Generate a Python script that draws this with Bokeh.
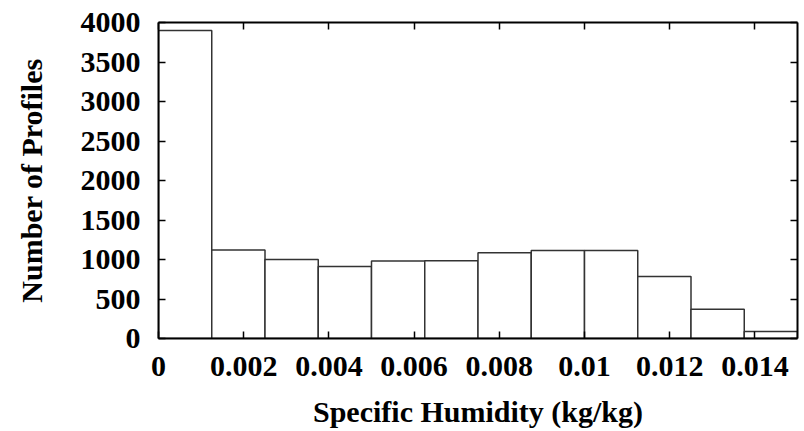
from bokeh.plotting import figure
from bokeh.models import LinearAxis, Range1d, FixedTicker
from bokeh.embed import file_html
from bokeh.resources import INLINE

# Histogram data
bin_edges = [0.0, 0.00125, 0.0025, 0.00375, 0.005, 0.00625, 0.0075,
             0.00875, 0.01, 0.01125, 0.0125, 0.01375, 0.015]
counts = [3900, 1120, 1000, 910, 980, 985, 1085, 1115, 1115, 785, 370, 90]
x_ticks = [0, 0.002, 0.004, 0.006, 0.008, 0.01, 0.012, 0.014]
x_tick_labels = ["0", "0.002", "0.004", "0.006", "0.008", "0.01", "0.012", "0.014"]
y_ticks = [0, 500, 1000, 1500, 2000, 2500, 3000, 3500, 4000]

FONT = "Liberation Serif"
FS = "30px"

p = figure(width=804, height=431, output_backend="svg", toolbar_location=None,
           x_range=Range1d(0, 0.015), y_range=Range1d(0, 4000),
           min_border_left=158, min_border_right=7, min_border_top=22,
           min_border_bottom=93)
p.outline_line_color = None
p.xgrid.visible = False
p.ygrid.visible = False
p.background_fill_color = "white"
p.border_fill_color = "white"

p.quad(left=bin_edges[:-1], right=bin_edges[1:], bottom=0, top=counts,
       fill_color="white", line_color="#333333", line_width=1.5)

def style(ax, labels=True):
    ax.axis_line_color = "black"
    ax.axis_line_width = 2
    ax.major_tick_in = 7
    ax.major_tick_out = 0
    ax.major_tick_line_color = "black"
    ax.major_tick_line_width = 1.5
    ax.minor_tick_line_color = None
    ax.major_label_text_font = FONT
    ax.major_label_text_font_style = "bold"
    ax.major_label_text_font_size = FS
    ax.major_label_text_color = "black"
    ax.axis_label_text_font = FONT
    ax.axis_label_text_font_style = "bold"
    ax.axis_label_text_font_size = FS
    ax.axis_label_text_color = "black"
    if not labels:
        ax.major_label_text_font_size = "0px"
        ax.major_label_text_color = None

xa = p.xaxis[0]
style(xa)
xa.ticker = FixedTicker(ticks=x_ticks)
xa.major_label_overrides = {t: s for t, s in zip(x_ticks, x_tick_labels)}
xa.major_label_standoff = 18
xa.axis_label = "Specific Humidity (kg/kg)"
xa.axis_label_standoff = 16

ya = p.yaxis[0]
style(ya)
ya.ticker = FixedTicker(ticks=y_ticks)
ya.major_label_standoff = 18
ya.axis_label = "Number of Profiles"
ya.axis_label_standoff = 30

top = LinearAxis(ticker=FixedTicker(ticks=x_ticks))
style(top, labels=False)
p.add_layout(top, "above")
right = LinearAxis(ticker=FixedTicker(ticks=y_ticks))
style(right, labels=False)
p.add_layout(right, "right")

open("out.html", "w").write(file_html(p, INLINE))
